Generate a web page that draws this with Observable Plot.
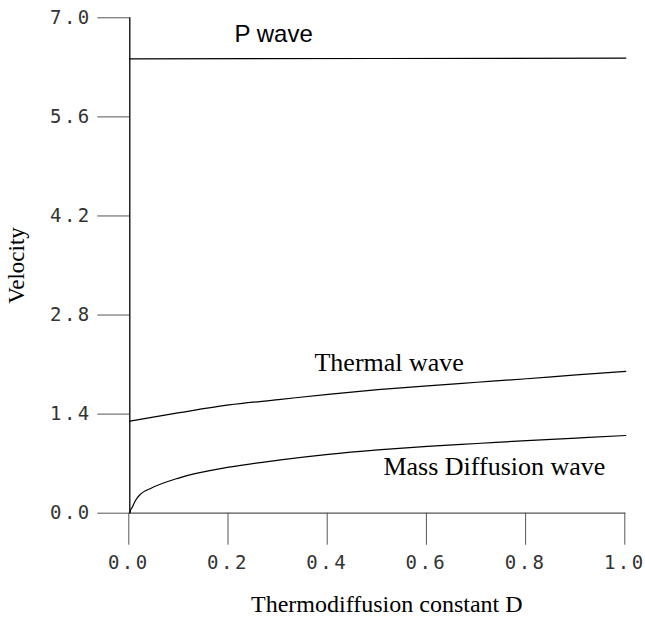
<!DOCTYPE html>
<html>
<head>
<meta charset="utf-8">
<script src="https://cdn.jsdelivr.net/npm/d3@7"></script>
<script src="https://cdn.jsdelivr.net/npm/@observablehq/plot@0.6"></script>
<style>
  html, body { margin: 0; padding: 0; background: #fff; }
  g[aria-label$="tick label"] text { letter-spacing: 2.5px; }
</style>
</head>
<body>
<div id="chart"></div>
<script>
// ---- data ----
const xTicks = [0, 0.2, 0.4, 0.6, 0.8, 1.0];
const yTicks = [0, 1.4, 2.8, 4.2, 5.6, 7.0];

const pD = [0, 0.5, 1.0];
const pV = [6.42, 6.425, 6.43];

const thD = [0, 0.1, 0.2, 0.3, 0.4, 0.5, 0.6, 0.7, 0.8, 0.9, 1.0];
const thV = [1.30, 1.42, 1.53, 1.605, 1.68, 1.745, 1.80, 1.85, 1.90, 1.955, 2.005];

const mdD = [0, 0.002, 0.005, 0.0115, 0.0216, 0.042, 0.1, 0.2, 0.3, 0.4, 0.5, 0.6, 0.7, 0.8, 0.9, 1.0];
const mdV = [0, 0.05, 0.085, 0.18, 0.27, 0.35, 0.50, 0.65, 0.75, 0.832, 0.895, 0.945, 0.985, 1.025, 1.062, 1.098];

const labelTexts = ["P wave", "Thermal wave", "Mass Diffusion wave"];
const labelD = [0.29, 0.523, 0.735];
const labelV = [6.76, 2.12, 0.664];

const xTitle = "Thermodiffusion constant D";
const yTitle = "Velocity";

// ---- tables built from the arrays ----
const series = [
  ...pD.map((d, i) => ({name: "P", D: d, v: pV[i]})),
  ...thD.map((d, i) => ({name: "Thermal", D: d, v: thV[i]})),
  ...mdD.map((d, i) => ({name: "Mass", D: d, v: mdV[i]}))
];
const labels = labelTexts.map((t, i) => ({text: t, D: labelD[i], v: labelV[i]}));

const serif = "Liberation Serif, Times New Roman, serif";
const mono = "DejaVu Sans Mono, monospace";

const chart = Plot.plot({
  width: 645,
  height: 618,
  marginLeft: 129.3,
  marginRight: 19.7,
  marginTop: 17.3,
  marginBottom: 105.3,
  style: {background: "#fff", color: "#000"},
  x: {domain: [0, 1]},
  y: {domain: [0, 7]},
  marks: [
    Plot.axisX({ticks: xTicks, tickSize: 32, tickPadding: 10, tickFormat: d => d.toFixed(1),
      stroke: "#555", fill: "#333", fontFamily: mono, fontSize: 19, dx: -1, label: null}),
    Plot.axisY({ticks: yTicks, tickSize: 32, tickPadding: 6, tickFormat: d => d.toFixed(1),
      stroke: "#555", fill: "#333", fontFamily: mono, fontSize: 19, label: null}),
    Plot.ruleY([0], {stroke: "#555", strokeWidth: 1.2}),
    Plot.ruleX([0], {y1: 7, y2: 0, stroke: "#000", strokeWidth: 1.3}),
    Plot.line(series, {x: "D", y: "v", z: "name", stroke: "#000", strokeWidth: 1.2, curve: "monotone-x"}),
    Plot.text(labels.slice(0, 1), {x: "D", y: "v", text: "text", fontFamily: "Liberation Sans, Arial, sans-serif", fontSize: 24, fill: "#000"}),
    Plot.text(labels.slice(1), {x: "D", y: "v", text: "text", fontFamily: serif, fontSize: 26, fill: "#000"}),
    Plot.text([yTitle], {frameAnchor: "left", textAnchor: "middle", lineAnchor: "middle", dx: -113, rotate: -90, fontFamily: serif, fontSize: 23, fill: "#000"}),
    Plot.text([xTitle], {frameAnchor: "bottom", textAnchor: "middle", lineAnchor: "middle", dx: 9, dy: 91, fontFamily: serif, fontSize: 24, fill: "#000"})
  ]
});
document.getElementById("chart").appendChild(chart);
</script>
</body>
</html>
